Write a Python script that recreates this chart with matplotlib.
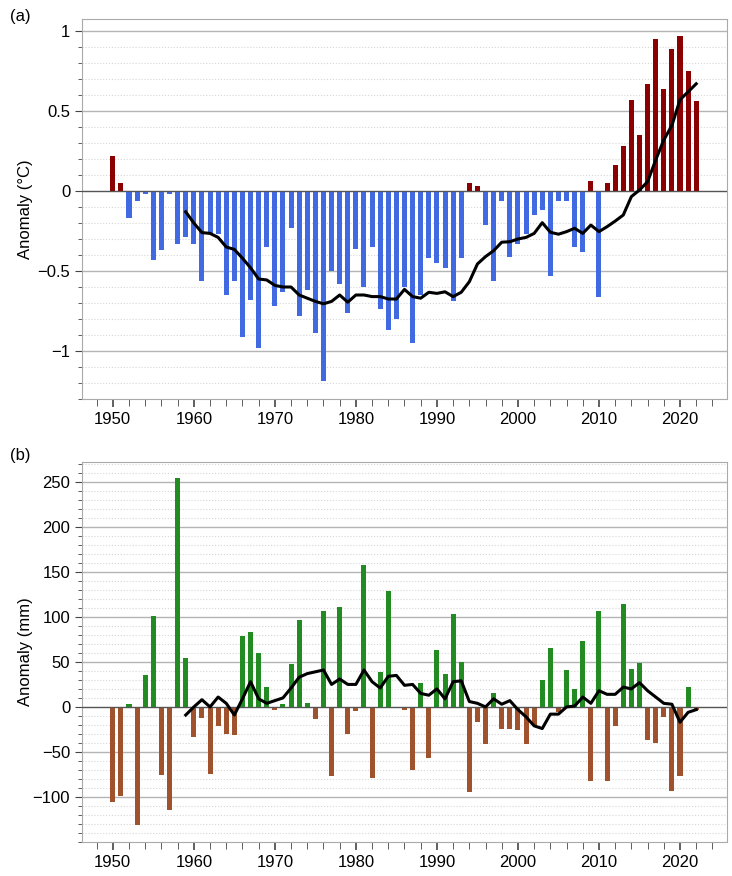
import numpy as np
import matplotlib
matplotlib.use('Agg')
import matplotlib.pyplot as plt
from matplotlib.ticker import MultipleLocator

plt.rcParams['font.family'] = ['Liberation Sans', 'DejaVu Sans']

years = np.arange(1950, 2023)

# (a) temperature anomaly (°C)
temp = [0.22, 0.05, -0.17, -0.06, -0.02, -0.43, -0.37, -0.02, -0.33, -0.29,
        -0.33, -0.56, -0.26, -0.27, -0.65, -0.56, -0.91, -0.68, -0.98, -0.35,
        -0.72, -0.63, -0.23, -0.78, -0.62, -0.89, -1.19, -0.50, -0.58, -0.76,
        -0.36, -0.60, -0.35, -0.74, -0.87, -0.80, -0.60, -0.95, -0.65, -0.42,
        -0.45, -0.48, -0.69, -0.42, 0.05, 0.03, -0.21, -0.56, -0.06, -0.41,
        -0.33, -0.27, -0.15, -0.12, -0.53, -0.06, -0.06, -0.35, -0.38, 0.06,
        -0.66, 0.05, 0.16, 0.28, 0.57, 0.35, 0.67, 0.95, 0.64, 0.89,
        0.97, 0.75, 0.56]
line_years = np.arange(1959, 2023)
temp_mean = [-0.13, -0.20, -0.26, -0.265, -0.29, -0.35, -0.365, -0.42, -0.48, -0.55,
             -0.556, -0.59, -0.60, -0.60, -0.65, -0.67, -0.69, -0.705, -0.69, -0.65,
             -0.695, -0.65, -0.65, -0.66, -0.66, -0.675, -0.675, -0.615, -0.66, -0.67,
             -0.633, -0.64, -0.63, -0.66, -0.633, -0.567, -0.456, -0.41, -0.373, -0.32,
             -0.317, -0.30, -0.29, -0.265, -0.198, -0.258, -0.27, -0.254, -0.233, -0.265,
             -0.213, -0.254, -0.223, -0.188, -0.15, -0.035, 0.006, 0.058, 0.194, 0.319,
             0.41, 0.57, 0.62, 0.67]

# (b) precipitation anomaly (mm)
prec = [-106, -99, 3, -131, 35, 101, -76, -115, 254, 54,
        -33, -12, -75, -21, -30, -31, 79, 83, 60, 22,
        -3, 3, 48, 96, 4, -13, 106, -77, 111, -30,
        -4, 158, -79, 39, 129, -1, -3, -70, 27, -57,
        63, 37, 103, 50, -94, -17, -41, 16, -24, -25,
        -26, -41, -20, 30, 65, -6, 41, 20, 73, -82,
        107, -82, -21, 114, 42, 49, -37, -40, -11, -93,
        -77, 22, -3]
prec_mean = [-9, 0, 8, 0, 11, 4, -9, 9, 28, 9,
             4, 7, 10, 21, 33, 37, 39, 41, 25, 31,
             25, 25, 41, 28, 21, 34, 35, 24, 25, 15,
             13, 20, 9, 28, 29, 6, 4, 0, 9, 3,
             7, -3, -11, -21, -24, -8, -8, 0, 1, 11,
             4, 18, 14, 14, 22, 20, 27, 18, 11, 4,
             3, -17, -6, -3]

fig = plt.figure(figsize=(7.32, 8.76), dpi=100)
ax1 = fig.add_axes([82/732, 1-399/876, 645/732, 380/876])
ax2 = fig.add_axes([82/732, 1-842/876, 645/732, 380/876])

temp = np.array(temp)
prec = np.array(prec)
ax1.bar(years, temp, width=0.62, color=np.where(temp >= 0, '#8b0000', '#4169e1'), zorder=3)
ax1.plot(line_years, temp_mean, color='k', lw=2.2, zorder=4)
ax2.bar(years, prec, width=0.62, color=np.where(prec >= 0, '#228b22', '#a0522d'), zorder=3)
ax2.plot(line_years, prec_mean, color='k', lw=2.2, zorder=4)

ax1.set_ylim(-1.3, 1.075)
ax1.yaxis.set_minor_locator(MultipleLocator(0.1))
ax1.set_yticks([-1, -0.5, 0, 0.5, 1])
ax1.set_yticklabels(['\u22121', '\u22120.5', '0', '0.5', '1'])
ax1.set_ylabel('Anomaly (°C)', fontsize=12)

ax2.set_ylim(-150, 272)
ax2.yaxis.set_minor_locator(MultipleLocator(10))
ax2.set_yticks(np.arange(-100, 251, 50))
ax2.set_yticklabels([str(v).replace('-', '\u2212') for v in range(-100, 251, 50)])
ax2.set_ylabel('Anomaly (mm)', fontsize=12)

for ax in (ax1, ax2):
    ax.set_xlim(1946.2, 2025.8)
    ax.xaxis.set_major_locator(MultipleLocator(10))
    ax.xaxis.set_minor_locator(MultipleLocator(2))
    ax.grid(which='major', axis='y', color='#b4b4b4', lw=1.0, zorder=0)
    ax.grid(which='minor', axis='y', color='#d6d6d6', lw=0.8, ls=':', zorder=0)
    ax.axhline(0, color='#555555', lw=0.9, zorder=3.5)
    ax.tick_params(which='both', direction='out', color='#444444', labelsize=12)
    ax.tick_params(which='major', length=5)
    ax.tick_params(which='minor', length=3)
    ax.tick_params(axis='x', which='minor', length=5)
    ax.tick_params(axis='x', which='major', length=6, width=1.2)
    ax.yaxis.set_label_coords(-0.076, 0.5)
    for s in ax.spines.values():
        s.set_color('#aaaaaa')

fig.text(10/732, 1-17/876, '(a)', fontsize=12, va='center', ha='left')
fig.text(10/732, 1-455/876, '(b)', fontsize=12, va='center', ha='left')

fig.savefig('out.png', dpi=100)
